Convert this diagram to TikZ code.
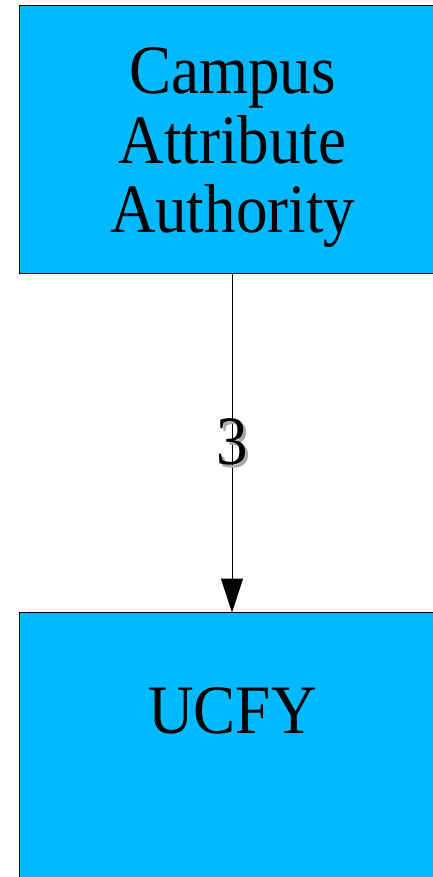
\documentclass[tikz,border=0pt]{standalone}
\usepackage{fontspec}
\usepackage{graphicx}
\setmainfont{Liberation Serif}
\usetikzlibrary{arrows.meta}
\definecolor{boxblue}{RGB}{0,185,255}
\definecolor{shadowgray}{RGB}{170,170,170}
\newcommand\tallertext[1]{\scalebox{1}[1.1]{#1}}
\begin{document}
\begin{tikzpicture}[x=1pt,y=-1pt,
  box/.style={draw=black, line width=1pt, fill=boxblue, minimum width=426pt, inner sep=0pt},
  big/.style={font=\fontsize{63}{63.6}\selectfont, inner sep=0pt},
  conn/.style={line width=1pt, -{Triangle[length=34pt,width=22pt]}}]
\useasboundingbox (0,0) rectangle (432,877);
\node[box, minimum height=267pt] (caa) at (232,139.5) {};
\node[box, minimum height=300pt] (ucfy) at (232,762.5) {};
\node[big, anchor=base] (caatext) at (232.5,233) {\tallertext{\begin{tabular}[b]{@{}c@{}}Campus\\Attribute\\Authority\end{tabular}}};
\node[big, anchor=base] (ucfytext) at (232.5,733) {\tallertext{UCFY}};
\coordinate (caab) at (232,273);
\coordinate (ucfyt) at (232,612.5);
\draw[conn] (caab) -- (ucfyt);
\node[big, anchor=base, text=shadowgray] (lblshadow) at (235,467) {\tallertext{3}};
\node[big, anchor=base] (lbl) at (232,464) {\tallertext{3}};
\end{tikzpicture}
\end{document}
